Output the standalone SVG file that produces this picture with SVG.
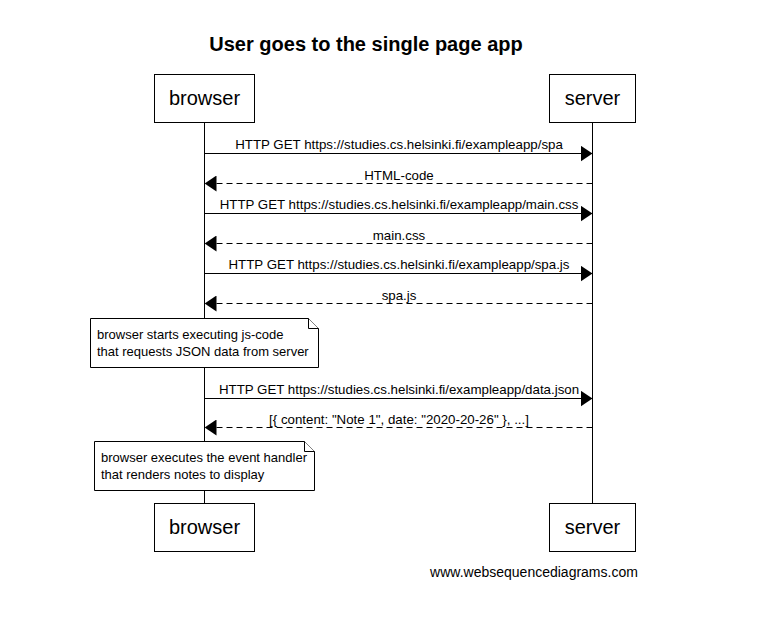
<svg xmlns="http://www.w3.org/2000/svg" width="757" height="637" viewBox="0 0 757 637">
<style>
text{font-family:"Liberation Sans",Arial,sans-serif;fill:#000}
.box{fill:#fff;stroke:#000;stroke-width:1}
.pt{font-size:20px;text-anchor:middle}
.ml{font-size:13.3px;text-anchor:middle}
.nt{font-size:13px}
.life{stroke:#000;stroke-width:1}
.msg{stroke:#000;stroke-width:1;fill:none}
.dash{stroke-dasharray:6,4}
.note{fill:#fff;stroke:#000;stroke-width:1}
</style>
<defs>
<marker id="ah" markerWidth="12" markerHeight="16" refX="12" refY="8" orient="auto" markerUnits="userSpaceOnUse">
<path d="M0,0 L12,8 L0,16 z" fill="#000"/>
</marker>
</defs>
<rect width="757" height="637" fill="#fff"/>
<text x="366" y="51" font-size="20" font-weight="bold" text-anchor="middle">User goes to the single page app</text>
<g id="lifelines">
<line class="life" x1="204.5" y1="122" x2="204.5" y2="504"/>
<line class="life" x1="592.5" y1="122" x2="592.5" y2="504"/>
</g>
<g id="browser-top"><rect class="box" x="154.5" y="74.5" width="100" height="48"/><text class="pt" x="204.5" y="105">browser</text></g>
<g id="server-top"><rect class="box" x="549.5" y="74.5" width="86" height="48"/><text class="pt" x="592.5" y="105">server</text></g>
<g id="browser-bottom"><rect class="box" x="154.5" y="503.5" width="100" height="48"/><text class="pt" x="204.5" y="534">browser</text></g>
<g id="server-bottom"><rect class="box" x="549.5" y="503.5" width="86" height="48"/><text class="pt" x="592.5" y="534">server</text></g>
<g id="connectors">
<line class="msg" x1="204.5" y1="153.5" x2="592.5" y2="153.5" marker-end="url(#ah)"/>
<text class="ml" x="399" y="149">HTTP GET https://studies.cs.helsinki.fi/exampleapp/spa</text>
<line class="msg dash" x1="592.5" y1="183.5" x2="204.5" y2="183.5" marker-end="url(#ah)"/>
<text class="ml" x="399" y="180">HTML-code</text>
<line class="msg" x1="204.5" y1="213.5" x2="592.5" y2="213.5" marker-end="url(#ah)"/>
<text class="ml" x="399" y="209">HTTP GET https://studies.cs.helsinki.fi/exampleapp/main.css</text>
<line class="msg dash" x1="592.5" y1="243.5" x2="204.5" y2="243.5" marker-end="url(#ah)"/>
<text class="ml" x="399" y="240">main.css</text>
<line class="msg" x1="204.5" y1="273.5" x2="592.5" y2="273.5" marker-end="url(#ah)"/>
<text class="ml" x="399" y="269">HTTP GET https://studies.cs.helsinki.fi/exampleapp/spa.js</text>
<line class="msg dash" x1="592.5" y1="303.5" x2="204.5" y2="303.5" marker-end="url(#ah)"/>
<text class="ml" x="399" y="300">spa.js</text>
<line class="msg" x1="204.5" y1="398.5" x2="592.5" y2="398.5" marker-end="url(#ah)"/>
<text class="ml" x="399" y="394">HTTP GET https://studies.cs.helsinki.fi/exampleapp/data.json</text>
<line class="msg dash" x1="592.5" y1="427.5" x2="204.5" y2="427.5" marker-end="url(#ah)"/>
<text class="ml" x="399" y="424">[{ content: "Note 1", date: "2020-20-26" }, ...]</text>
</g>
<g id="note1">
<path class="note" d="M90.5,318.5 H308.5 L318.5,328.5 V367.5 H90.5 Z"/>
<path class="note" d="M308.5,318.5 V328.5 H318.5" fill="none"/>
<text class="nt" x="97" y="339">browser starts executing js-code</text>
<text class="nt" x="97" y="356">that requests JSON data from server</text>
</g>
<g id="note2">
<path class="note" d="M94.5,441.5 H304.5 L314.5,451.5 V490.5 H94.5 Z"/>
<path class="note" d="M304.5,441.5 V451.5 H314.5" fill="none"/>
<text class="nt" x="101" y="462">browser executes the event handler</text>
<text class="nt" x="101" y="479">that renders notes to display</text>
</g>
<text x="534" y="577" font-size="14" text-anchor="middle">www.websequencediagrams.com</text>
</svg>
